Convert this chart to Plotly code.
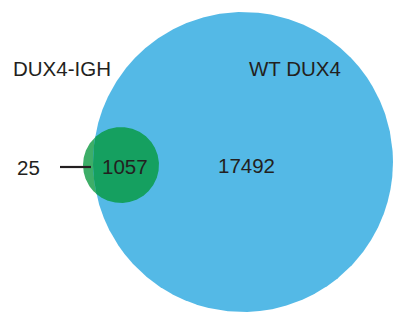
import numpy as np
import plotly.graph_objects as go

# Data
set_labels = ["DUX4-IGH", "WT DUX4"]
region_labels = ["DUX4-IGH only", "Both", "WT DUX4 only"]
region_counts = [25, 1057, 17492]

# Geometry (pixel-like coordinates of the drawing canvas)
W, H = 394, 312
big_c, big_r = (243.0, 162.0), 150.0
small_c, small_r = (121.0, 165.0), 38.0

BLUE = "#54B9E6"
DGREEN = "#15A060"
LGREEN = "#3DAE68"
TXT = "#231F20"
FONT = "Liberation Sans, Arial, Helvetica, sans-serif"


def circle(c, r, n=400):
    t = np.linspace(0, 2 * np.pi, n)
    return c[0] + r * np.cos(t), c[1] + r * np.sin(t)


sx, sy = circle(small_c, small_r, 1200)
bx, by = circle(big_c, big_r, 4000)
in_big = (sx - big_c[0]) ** 2 + (sy - big_c[1]) ** 2 <= big_r ** 2
in_small = (bx - small_c[0]) ** 2 + (by - small_c[1]) ** 2 <= small_r ** 2
lx = np.concatenate([sx[in_big], bx[in_small]])
ly = np.concatenate([sy[in_big], by[in_small]])
cx, cy = lx.mean(), ly.mean()
order = np.argsort(np.arctan2(ly - cy, lx - cx))
lx, ly = lx[order], ly[order]
lx = np.append(lx, lx[0])
ly = np.append(ly, ly[0])

fig = go.Figure()
fig.add_trace(go.Scatter(x=sx, y=sy, fill="toself", fillcolor=LGREEN, mode="lines",
                         line=dict(width=0, color=LGREEN), hoverinfo="skip", showlegend=False))
fig.add_trace(go.Scatter(x=bx, y=by, fill="toself", fillcolor=BLUE, mode="lines",
                         line=dict(width=0, color=BLUE), hoverinfo="skip", showlegend=False))
fig.add_trace(go.Scatter(x=lx, y=ly, fill="toself", fillcolor=DGREEN, mode="lines",
                         line=dict(width=0, color=DGREEN), hoverinfo="skip", showlegend=False))

# Leader line for the DUX4-IGH-only count
fig.add_shape(type="line", x0=60, x1=91, y0=167, y1=167,
              line=dict(color=TXT, width=2.2), layer="above")

ann = [
    (62, 68, set_labels[0]),
    (295, 68, set_labels[1]),
    (28, 167, str(region_counts[0])),
    (125, 166, str(region_counts[1])),
    (246, 165, str(region_counts[2])),
]
for x, y, t in ann:
    fig.add_annotation(x=x, y=y, text=t, showarrow=False, xref="x", yref="y",
                       xanchor="center", yanchor="middle",
                       font=dict(family=FONT, size=20.5, color=TXT))

fig.update_layout(
    width=W, height=H,
    margin=dict(l=0, r=0, t=0, b=0),
    paper_bgcolor="white", plot_bgcolor="white",
    xaxis=dict(range=[0, W], visible=False, fixedrange=True),
    yaxis=dict(range=[H, 0], visible=False, fixedrange=True),
    showlegend=False,
)

fig.write_html("out.html", config=dict(displayModeBar=False),
               post_script="document.body.style.margin='0';document.body.style.overflow='hidden';")
